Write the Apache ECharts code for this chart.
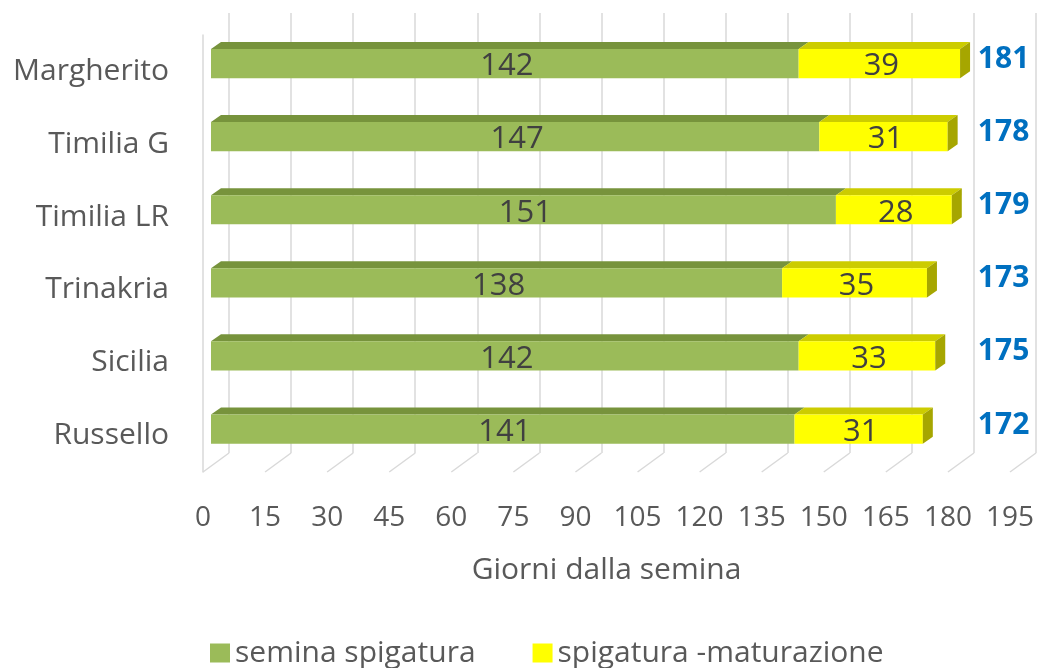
<!DOCTYPE html>
<html>
<head>
<meta charset="utf-8">
<script src="https://cdn.jsdelivr.net/npm/echarts@6/dist/echarts.min.js"></script>
<style>
  html, body { margin: 0; padding: 0; background: #fff; }
  #chart { width: 1040px; height: 668px; }
</style>
</head>
<body>
<div id="chart"></div>
<script>
const categories = ['Margherito', 'Timilia G', 'Timilia LR', 'Trinakria', 'Sicilia', 'Russello']
const seminaSpigatura = [142, 147, 151, 138, 142, 141]
const spigaturaMaturazione = [39, 31, 28, 35, 33, 31]
const totals = [181, 178, 179, 173, 175, 172]
const xTicks = [0, 15, 30, 45, 60, 75, 90, 105, 120, 135, 150, 165, 180, 195]

const FONT = '"Open Sans", sans-serif'
const DX = 10, DY = 7   // depth of the bars

let chart = echarts.init(document.getElementById('chart'), null, { renderer: 'canvas' })

// [category, start, end]
let greenData = categories.map((c, i) => [i, 0, seminaSpigatura[i]])
let yellowData = categories.map((c, i) => [i, seminaSpigatura[i], seminaSpigatura[i] + spigaturaMaturazione[i]])

function barRenderer(front, top, side, showSide) {
  return function(params, api) {
    let cat = api.value(0)
    let p0 = api.coord([api.value(1), cat])
    let p1 = api.coord([api.value(2), cat])
    let h = api.size([0, 1])[1] * 0.4
    let y0 = p0[1] - h / 2
    let y1 = p0[1] + h / 2
    let children = [
      { type: 'polygon', shape: { points: [[p0[0], y0], [p0[0] + DX, y0 - DY], [p1[0] + DX, y0 - DY], [p1[0], y0]] },
        style: { fill: top } },
      { type: 'rect', shape: { x: p0[0], y: y0, width: p1[0] - p0[0], height: h },
        style: { fill: front } },
      { type: 'text', x: (p0[0] + p1[0]) / 2 + 2, y: p0[1] + 3,
        style: { text: String(api.value(2) - api.value(1)), fill: '#404040', font: '31px ' + FONT,
          align: 'center', verticalAlign: 'middle' } }
    ]
    if (showSide) {
      children.push({ type: 'polygon',
        shape: { points: [[p1[0], y0], [p1[0] + DX, y0 - DY], [p1[0] + DX, y1 - DY], [p1[0], y1]] },
        style: { fill: side } })
    }
    return { type: 'group', children: children }
  }
}

let option = {
  animation: false,
  textStyle: { fontFamily: FONT },
  legend: {
    bottom: -5,
    left: 205,
    itemWidth: 20,
    itemHeight: 19,
    itemGap: 57,
    icon: 'rect',
    textStyle: { fontSize: 30, color: '#595959', fontFamily: FONT },
    data: ['semina spigatura', 'spigatura -maturazione']
  },
  grid: [
    { left: 211, width: 807, top: 27, height: 438.6 },   // bars
    { left: 229, width: 807, top: 13, height: 440 },     // back wall
    { left: 203, width: 807, top: 35, height: 437 }      // front plane
  ],
  xAxis: [
    { gridIndex: 0, type: 'value', min: 0, max: 195, interval: 15, show: false },
    { gridIndex: 1, type: 'value', min: 0, max: 195, interval: 15,
      axisLine: { show: false }, axisTick: { show: false }, axisLabel: { show: false },
      splitLine: { show: true, lineStyle: { color: '#D9D9D9', width: 1.5 } } },
    { gridIndex: 2, type: 'value', min: 0, max: 195, interval: 15,
      axisLine: { show: false }, axisTick: { show: false }, splitLine: { show: false },
      axisLabel: { fontSize: 28, color: '#595959', margin: 32, fontFamily: FONT },
      name: 'Giorni dalla semina', nameLocation: 'middle', nameGap: 83,
      nameTextStyle: { fontSize: 30, color: '#595959', fontFamily: FONT } }
  ],
  yAxis: [
    { gridIndex: 0, type: 'category', data: categories, inverse: true, show: false },
    { gridIndex: 1, type: 'category', data: categories, inverse: true, show: false },
    { gridIndex: 2, type: 'category', data: categories, inverse: true,
      axisLine: { show: true, lineStyle: { color: '#D9D9D9', width: 1.5 } },
      axisTick: { show: false }, splitLine: { show: false },
      axisLabel: { fontSize: 30, color: '#595959', margin: 34, fontFamily: FONT } }
  ],
  series: [
    {
      // floor lines
      type: 'custom', xAxisIndex: 0, yAxisIndex: 0, silent: true,
      data: xTicks.map(v => [v]),
      renderItem: function(params, api) {
        let p = api.coord([api.value(0), 0])
        let bottom = params.coordSys.y + params.coordSys.height
        return { type: 'line',
          shape: { x1: p[0] + 18, y1: bottom - 12.6, x2: p[0] - 8, y2: bottom + 6.4 },
          style: { stroke: '#D9D9D9', lineWidth: 1.5 } }
      },
      z: 1
    },
    {
      name: 'semina spigatura', type: 'custom', xAxisIndex: 0, yAxisIndex: 0,
      itemStyle: { color: '#9BBB59' },
      data: greenData,
      renderItem: barRenderer('#9BBB59', '#77933C', '#77933C', false),
      z: 2
    },
    {
      name: 'spigatura -maturazione', type: 'custom', xAxisIndex: 0, yAxisIndex: 0,
      itemStyle: { color: '#FFFF00' },
      data: yellowData,
      renderItem: barRenderer('#FFFF00', '#CCCC00', '#A6A600', true),
      z: 3
    },
    {
      // totals
      type: 'custom', xAxisIndex: 0, yAxisIndex: 0, silent: true,
      data: totals.map((t, i) => [i, t]),
      renderItem: function(params, api) {
        let p = api.coord([185.3, api.value(0)])
        return { type: 'text', x: p[0], y: p[1] - 4,
          style: { text: String(api.value(1)), fill: '#0070C0', font: 'bold 30px ' + FONT,
            align: 'left', verticalAlign: 'middle' } }
      },
      z: 4
    }
  ]
}

chart.setOption(option)
</script>
</body>
</html>
